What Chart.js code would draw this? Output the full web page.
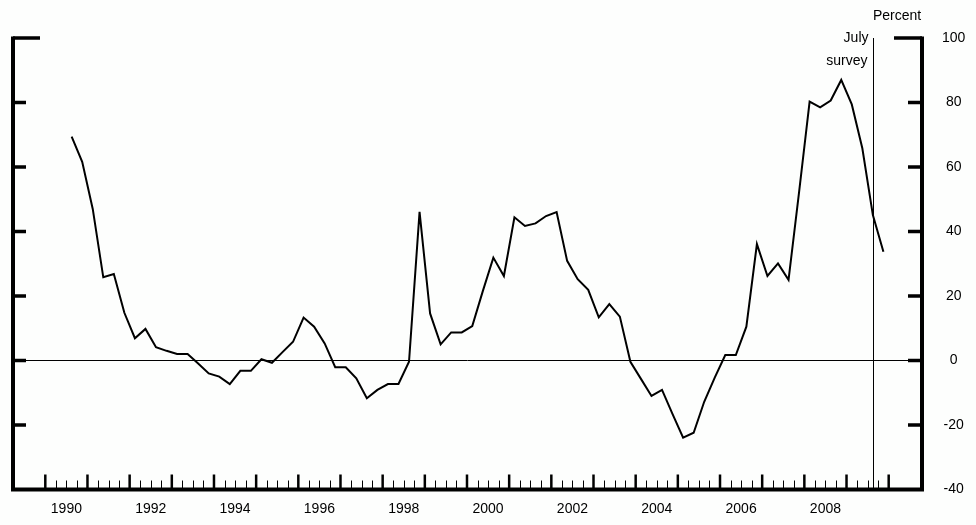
<!DOCTYPE html>
<html>
<head>
<meta charset="utf-8">
<title>Net percentage of banks tightening standards</title>
<script src="https://cdn.jsdelivr.net/npm/chart.js@4.4.1/dist/chart.umd.min.js"></script>
<style>
  html, body { margin: 0; padding: 0; background: #fdfefd; }
  canvas { display: block; }
</style>
</head>
<body>
<canvas id="chart" width="976" height="525"></canvas>
<script>
// Survey quarters, one per point
const quarters = [
  '1990Q3', '1990Q4',
  '1991Q1', '1991Q2', '1991Q3', '1991Q4',
  '1992Q1', '1992Q2', '1992Q3', '1992Q4',
  '1993Q1', '1993Q2', '1993Q3', '1993Q4',
  '1994Q1', '1994Q2', '1994Q3', '1994Q4',
  '1995Q1', '1995Q2', '1995Q3', '1995Q4',
  '1996Q1', '1996Q2', '1996Q3', '1996Q4',
  '1997Q1', '1997Q2', '1997Q3', '1997Q4',
  '1998Q1', '1998Q2', '1998Q3', '1998Q4',
  '1999Q1', '1999Q2', '1999Q3', '1999Q4',
  '2000Q1', '2000Q2', '2000Q3', '2000Q4',
  '2001Q1', '2001Q2', '2001Q3', '2001Q4',
  '2002Q1', '2002Q2', '2002Q3', '2002Q4',
  '2003Q1', '2003Q2', '2003Q3', '2003Q4',
  '2004Q1', '2004Q2', '2004Q3', '2004Q4',
  '2005Q1', '2005Q2', '2005Q3', '2005Q4',
  '2006Q1', '2006Q2', '2006Q3', '2006Q4',
  '2007Q1', '2007Q2', '2007Q3', '2007Q4',
  '2008Q1', '2008Q2', '2008Q3', '2008Q4',
  '2009Q1', '2009Q2', '2009Q3', '2009Q4'
];

// Percent
const percent = [
  69.4, 61.6,
  47.0, 25.8, 26.8, 14.8,
  6.9, 9.8, 4.1, 3.0,
  2.0, 2.0, -0.9, -4.0,
  -5.0, -7.3, -3.2, -3.2,
  0.4, -0.7, 2.6, 5.8,
  13.3, 10.5, 5.3, -2.1,
  -2.1, -5.5, -11.7, -9.1,
  -7.3, -7.3, -0.4, 46.1,
  14.6, 5.0, 8.7, 8.7,
  10.7, 21.5, 31.9, 26.2,
  44.4, 41.7, 42.5, 44.8,
  46.0, 30.9, 25.2, 21.9,
  13.4, 17.5, 13.6, -0.4,
  -5.7, -11.0, -9.1, -16.6,
  -23.9, -22.4, -12.8, -5.3,
  1.7, 1.7, 10.5, 36.1,
  26.2, 30.1, 25.0, 52.2,
  80.3, 78.5, 80.6, 87.0,
  79.4, 65.8, 45.1, 33.7
];

const yearLabels = [1990, 1992, 1994, 1996, 1998, 2000, 2002, 2004, 2006, 2008];
const yTicks = [-40, -20, 0, 20, 40, 60, 80, 100];
const tickYears = [1990, 1991, 1992, 1993, 1994, 1995, 1996, 1997, 1998, 1999, 2000,
  2001, 2002, 2003, 2004, 2005, 2006, 2007, 2008, 2009, 2010];
const surveyQuarter = '2009Q3';
const surveyText = ['July', 'survey'];
const unitText = 'Percent';

const FONT = '"Liberation Sans", Arial, Helvetica, sans-serif';

// quarter label -> decimal year at the middle of the quarter
function quarterToYear(q) {
  const year = parseInt(q.slice(0, 4), 10);
  const n = parseInt(q.slice(5), 10);
  return year + (n - 1) * 0.25 + 0.125;
}

const points = quarters.map((q, i) => ({ x: quarterToYear(q), y: percent[i] }));

// Frame, inward tick marks, survey marker and texts
const framePlugin = {
  id: 'frame',
  afterDraw(chart) {
    const { ctx, chartArea } = chart;
    const xs = chart.scales.x;
    const ys = chart.scales.y;
    const { left, right, top, bottom } = chartArea;
    ctx.save();
    ctx.strokeStyle = '#000';
    ctx.lineCap = 'butt';

    // quarter ticks on the bottom axis
    const firstYear = tickYears[0];
    const lastYear = tickYears[tickYears.length - 1];
    ctx.lineWidth = 1;
    for (let y = firstYear; y < lastYear; y++) {
      [0.25, 0.5, 0.75].forEach(f => {
        const px = Math.round(xs.getPixelForValue(y + f)) + 0.5;
        ctx.beginPath();
        ctx.moveTo(px, bottom);
        ctx.lineTo(px, bottom - 9);
        ctx.stroke();
      });
    }
    // year ticks
    ctx.lineWidth = 2.5;
    tickYears.forEach(y => {
      const px = xs.getPixelForValue(y);
      ctx.beginPath();
      ctx.moveTo(px, bottom);
      ctx.lineTo(px, bottom - 15);
      ctx.stroke();
    });

    // left and right value ticks
    ctx.lineWidth = 3.5;
    yTicks.forEach(v => {
      if (v === yTicks[0]) return;
      const py = ys.getPixelForValue(v);
      const top100 = v === yTicks[yTicks.length - 1];
      ctx.beginPath();
      ctx.moveTo(left, py);
      ctx.lineTo(left + (top100 ? 27 : 13), py);
      ctx.moveTo(right, py);
      ctx.lineTo(right - (top100 ? 28 : 14), py);
      ctx.stroke();
    });

    // frame: left, bottom, right
    ctx.lineWidth = 4;
    ctx.beginPath();
    ctx.moveTo(left, top - 1.5);
    ctx.lineTo(left, bottom);
    ctx.lineTo(right, bottom);
    ctx.lineTo(right, top - 1.5);
    ctx.stroke();

    // July survey marker
    const sx = Math.round(xs.getPixelForValue(quarterToYear(surveyQuarter))) + 0.5;
    ctx.lineWidth = 1;
    ctx.beginPath();
    ctx.moveTo(sx, top);
    ctx.lineTo(sx, bottom);
    ctx.stroke();

    ctx.fillStyle = '#000';
    ctx.font = '14px ' + FONT;
    ctx.textAlign = 'right';
    ctx.textBaseline = 'middle';
    ctx.fillText(surveyText[0], sx - 5, top);
    ctx.fillText(surveyText[1], sx - 6, top + 23);

    ctx.textAlign = 'center';
    ctx.fillText(unitText, right - 25, 16);
    ctx.restore();
  }
};

new Chart(document.getElementById('chart'), {
  type: 'line',
  data: {
    datasets: [{
      data: points,
      borderColor: '#000',
      borderWidth: 2,
      pointRadius: 0,
      tension: 0,
      fill: false
    }]
  },
  options: {
    responsive: false,
    animation: false,
    events: [],
    layout: { padding: { left: 13, top: 38, right: 0, bottom: 0 } },
    plugins: {
      legend: { display: false },
      tooltip: { enabled: false }
    },
    scales: {
      x: {
        type: 'linear',
        position: 'bottom',
        min: 1989.234,
        max: 2010.79,
        afterBuildTicks: scale => {
          scale.ticks = yearLabels.map(y => ({ value: y + 0.5 }));
        },
        afterFit: scale => { scale.height = 35.5; },
        grid: { display: false, drawTicks: false },
        border: { display: false },
        ticks: {
          autoSkip: false,
          maxRotation: 0,
          padding: 11,
          color: '#000',
          font: { family: FONT, size: 14 },
          callback: v => String(Math.floor(v))
        }
      },
      y: {
        type: 'linear',
        position: 'right',
        min: -40,
        max: 100,
        afterBuildTicks: scale => {
          scale.ticks = yTicks.map(v => ({ value: v }));
        },
        afterFit: scale => { scale.width = 54; },
        grid: {
          drawTicks: false,
          lineWidth: 1,
          color: c => (c.tick && c.tick.value === 0 ? '#000' : 'rgba(0,0,0,0)')
        },
        border: { display: false },
        ticks: {
          crossAlign: 'center',
          padding: 20,
          color: '#000',
          font: { family: FONT, size: 14 }
        }
      }
    }
  },
  plugins: [framePlugin]
});
</script>
</body>
</html>
